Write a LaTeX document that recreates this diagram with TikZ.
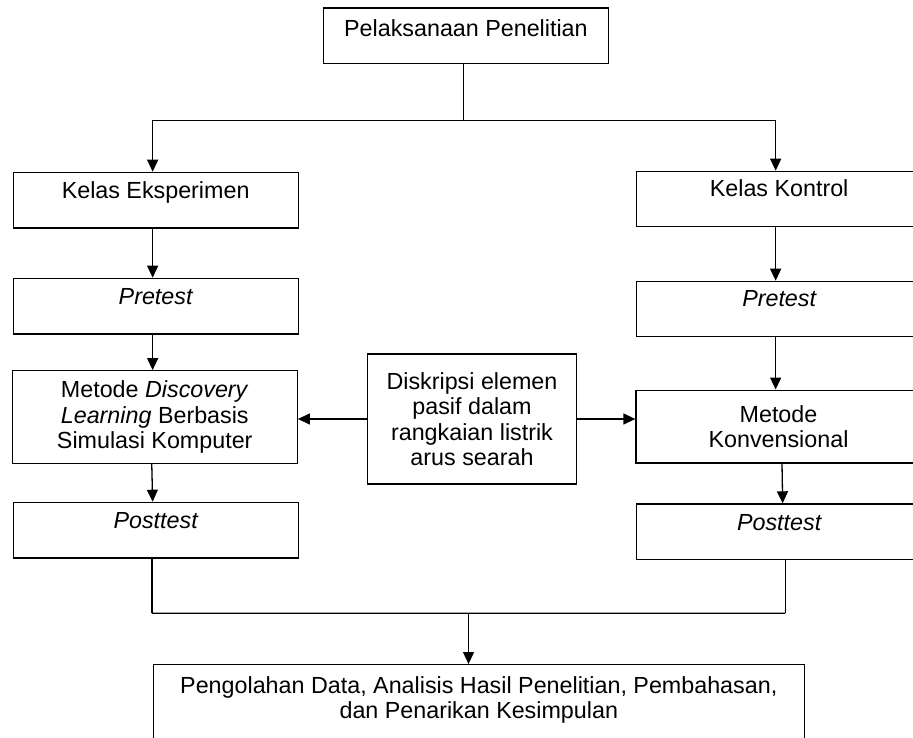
\documentclass[tikz,border=0pt]{standalone}
\usepackage{fontspec}
\setmainfont{Liberation Sans}
\usetikzlibrary{arrows.meta,calc}
\begin{document}
\begin{tikzpicture}[x=1pt,y=-1pt,
  every node/.style={font=\fontsize{23.3pt}{25.5pt}\selectfont, inner sep=0pt},
  box/.style={draw, line width=1.3pt, minimum width=285pt},
  one/.style={box, anchor=north west},
  multi/.style={box, align=center},
  conn/.style={line width=1.3pt},
  arr/.style={conn, -{Triangle[length=12pt,width=11pt]}}]
\useasboundingbox (0,0) rectangle (913,737);
\clip (0,0) rectangle (913,737);
\fill[white] (0,0) rectangle (913,737);

% top
\node[one, minimum width=285.6pt, text height=28.5pt, text depth=26.9pt] (pel) at (322.5,7.3) {Pelaksanaan Penelitian};

% left column
\node[one, text height=26.6pt, text depth=29pt] (ke) at (12.5,171.7) {Kelas Eksperimen};
\node[one, text height=26.3pt, text depth=29.3pt] (pl) at (12.5,277.7) {\itshape Pretest};
\node[multi, minimum height=92.5pt] (md) at (154.75,417) {Metode \textit{Discovery}\\\textit{Learning} Berbasis\\Simulasi Komputer};
\node[one, text height=26.6pt, text depth=29pt] (pol) at (12.5,501.7) {\itshape Posttest};

% right column
\node[one, text height=25.3pt, text depth=29.7pt] (kk) at (636,170.7) {Kelas Kontrol};
\node[one, text height=25.3pt, text depth=29.7pt] (pr) at (636,280.7) {\itshape Pretest};
\node[multi, minimum height=72.7pt] (mk) at (778.5,426.5) {Metode\\Konvensional};
\node[one, text height=26.7pt, text depth=29pt] (por) at (636,503.3) {\itshape Posttest};

% centre
\node[multi, minimum width=209pt, minimum height=130pt] (desc) at (472,419) {Diskripsi elemen\\pasif dalam\\rangkaian listrik\\arus searah};

% bottom
\node[box, anchor=north west, minimum width=651.3pt, minimum height=120pt] (hasil) at (152.5,664) {};
\node[align=center, anchor=north] (hasiltxt) at ($(hasil.north)+(0,12)$) {Pengolahan Data, Analisis Hasil Penelitian, Pembahasan,\\dan Penarikan Kesimpulan};

% connectors
\draw[conn] ([xshift=-2.8pt]pel.south) -- ++(0,56.6) coordinate (split);
\draw[arr] (split) -| ([xshift=-3pt]ke.north);
\draw[arr] (split) -| ([xshift=-3.5pt]kk.north);

\draw[arr] ([xshift=-3pt]ke.south) -- ([xshift=-3pt]pl.north);
\draw[arr] ([xshift=-3pt]pl.south) -- ([xshift=-3pt]pl.south |- md.north);
\draw[arr] ([xshift=-3pt]md.south) -- ([xshift=-3pt]pol.north);

\draw[arr] ([xshift=-3.5pt]kk.south) -- ([xshift=-3.5pt]pr.north);
\draw[arr] ([xshift=-3.5pt]pr.south) -- ([xshift=-3.5pt]pr.south |- mk.north);
\draw[arr] ([xshift=3.5pt]mk.south) -- ([xshift=3.5pt]por.north);

\draw[arr] (desc.west) -- (desc.west -| md.east);
\draw[arr] (desc.east) -- (desc.east -| mk.west);

\draw[conn] ([xshift=-3.75pt]pol.south) -- ++(0,54.7) coordinate (jl);
\draw[conn] ([xshift=6pt]por.south) -- ++(0,53) coordinate (jr);
\draw[conn] (jl) -- (jr);
\coordinate (jm) at ($(jl)!.5!(jr)$);
\draw[arr] (jm) -- (jm |- hasil.north);
\end{tikzpicture}
\end{document}
